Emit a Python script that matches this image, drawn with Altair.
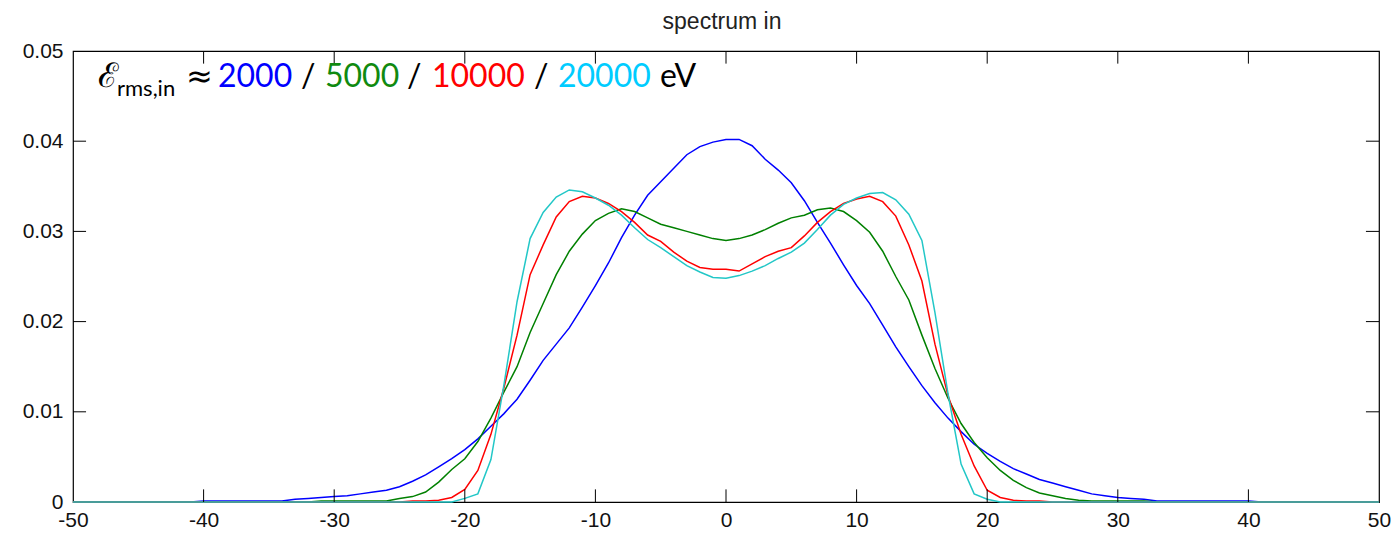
import altair as alt
import pandas as pd

# ---------------- data ----------------
x_vals = list(range(-50, 51))

blue_2000 = [0]*10 + [0.0001]*7 + [
    0.0003, 0.0004, 0.0005, 0.0006, 0.0007, 0.0009, 0.0011, 0.0013, 0.0017, 0.0023,
    0.0030, 0.0039, 0.0048, 0.0058, 0.0070, 0.0084, 0.0098, 0.0114, 0.0135, 0.0157,
    0.0175, 0.0193, 0.0216, 0.0240, 0.0265, 0.0293, 0.0318, 0.0340, 0.0355, 0.0370,
    0.0385, 0.0394, 0.0399, 0.0402, 0.0402, 0.0395, 0.0380, 0.0368, 0.0354, 0.0334,
    0.0310, 0.0287, 0.0263, 0.0240, 0.0220, 0.0196, 0.0172, 0.0150, 0.0129, 0.0110,
    0.0093, 0.0078, 0.0064, 0.0054, 0.0045, 0.0037, 0.0031, 0.0025, 0.0021, 0.0017,
    0.0013, 0.0009, 0.0007, 0.0005, 0.0004, 0.0003] + [0.0001]*8 + [0]*10

green_5000 = [0]*19 + [0.0001]*6 + [
    0.0004, 0.0006, 0.0011, 0.0022, 0.0036, 0.0048, 0.0067, 0.0093, 0.0122, 0.0150,
    0.0188, 0.0220, 0.0252, 0.0278, 0.0297, 0.0312, 0.0320, 0.0325, 0.0322, 0.0315,
    0.0308, 0.0304, 0.0300, 0.0296, 0.0292, 0.0290, 0.0292, 0.0296, 0.0302, 0.0309,
    0.0315, 0.0318, 0.0324, 0.0326, 0.0322, 0.0312, 0.0299, 0.0278, 0.0250, 0.0224,
    0.0185, 0.0148, 0.0115, 0.0087, 0.0066, 0.0049, 0.0035, 0.0024, 0.0016, 0.0010,
    0.0007, 0.0004, 0.0002] + [0.0001]*5 + [0]*18

red_10000 = [0]*26 + [
    0.0001, 0.0001, 0.0002, 0.0005, 0.0014, 0.0035, 0.0075, 0.0127, 0.0185, 0.0252,
    0.0285, 0.0316, 0.0333, 0.0339, 0.0337, 0.0331, 0.0322, 0.0310, 0.0296, 0.0289,
    0.0277, 0.0267, 0.0260, 0.0258, 0.0258, 0.0256, 0.0264, 0.0272, 0.0278, 0.0282,
    0.0295, 0.0310, 0.0322, 0.0331, 0.0336, 0.0339, 0.0333, 0.0317, 0.0285, 0.0245,
    0.0175, 0.0118, 0.0075, 0.0040, 0.0013, 0.0005, 0.0002, 0.0001, 0.0001] + [0]*26

cyan_20000 = [0]*30 + [
    0.0004, 0.0009, 0.0047, 0.0130, 0.0222, 0.0292, 0.0321, 0.0338, 0.0346, 0.0344,
    0.0337, 0.0329, 0.0318, 0.0304, 0.0291, 0.0282, 0.0272, 0.0262, 0.0255, 0.0249,
    0.0248, 0.0251, 0.0256, 0.0262, 0.0270, 0.0277, 0.0287, 0.0302, 0.0318, 0.0330,
    0.0337, 0.0342, 0.0343, 0.0335, 0.0319, 0.0290, 0.0210, 0.0120, 0.0042, 0.0009,
    0.0003] + [0]*30

series_names = ["2000", "5000", "10000", "20000"]
series_values = [blue_2000, green_5000, red_10000, cyan_20000]
line_colors = ["#0000FF", "#008000", "#FF0000", "#22C7C7"]
text_colors = ["#0000FF", "#108A10", "#FF0000", "#00CCFF"]

x_ticks = [-40, -30, -20, -10, 0, 10, 20, 30, 40]
y_ticks = [0.01, 0.02, 0.03, 0.04]
x_labels = [-50, -40, -30, -20, -10, 0, 10, 20, 30, 40, 50]
y_labels = [0, 0.01, 0.02, 0.03, 0.04, 0.05]

title_text = "spectrum in"

# ---------------- chart ----------------
xscale = alt.Scale(domain=[-50, 50], nice=False, zero=False)
yscale = alt.Scale(domain=[0, 0.05], nice=False)

xaxis = alt.Axis(values=x_labels, ticks=False, domain=False, grid=False,
                 labelFontSize=21, labelFont="Liberation Sans", labelColor="#111",
                 labelPadding=7, title=None, labelFlush=False,
                 labelExpr="'' + datum.value")
yaxis = alt.Axis(values=y_labels, ticks=False, domain=False, grid=False,
                 labelFontSize=21, labelFont="Liberation Sans", labelColor="#111",
                 labelPadding=10, title=None,
                 labelExpr="datum.value == 0 ? '0' : format(datum.value, '.2f')")

layers = []
for name, vals, col in zip(series_names, series_values, line_colors):
    df = pd.DataFrame({"x": x_vals, "y": vals})
    layers.append(
        alt.Chart(df).mark_line(color=col, strokeWidth=1.5).encode(
            x=alt.X("x:Q", scale=xscale, axis=xaxis),
            y=alt.Y("y:Q", scale=yscale, axis=yaxis),
        )
    )

tick_len_y = 0.0014
tick_len_x = 1.0
xt = pd.DataFrame({"x": x_ticks})
yt = pd.DataFrame({"y": y_ticks})
layers.append(alt.Chart(xt).mark_rule(color="black").encode(
    x="x:Q", y=alt.datum(0), y2=alt.datum(tick_len_y)))
layers.append(alt.Chart(xt).mark_rule(color="black").encode(
    x="x:Q", y=alt.datum(0.05), y2=alt.datum(0.05 - tick_len_y)))
layers.append(alt.Chart(yt).mark_rule(color="black").encode(
    y="y:Q", x=alt.datum(-50), x2=alt.datum(-50 + tick_len_x)))
layers.append(alt.Chart(yt).mark_rule(color="black").encode(
    y="y:Q", x=alt.datum(50), x2=alt.datum(50 - tick_len_x)))

# title
layers.append(alt.Chart(pd.DataFrame({"t": [title_text]})).mark_text(
    font="Liberation Sans", fontSize=23, color="#222", align="center", baseline="middle"
).encode(text="t:N", x=alt.value(649), y=alt.value(-29)))

# annotation pieces: (text, x, y, size, color, font)
pieces = [
    ("\u2130", 25, 36, 34, "black", "DejaVu Serif"),
    ("rms,in", 44, 45, 22, "black", "Lato"),
    ("\u2248", 113, 36, 32, "black", "DejaVu Sans"),
    (series_names[0], 145, 36, 32, text_colors[0], "Lato"),
    ("/", 228, 36, 32, "black", "Lato"),
    (series_names[1], 252, 36, 32, text_colors[1], "Lato"),
    ("/", 334, 36, 32, "black", "Lato"),
    (series_names[2], 359, 36, 32, text_colors[2], "Lato"),
    ("/", 461, 36, 32, "black", "Lato"),
    (series_names[3], 485, 36, 32, text_colors[3], "Lato"),
    ("eV", 587, 36, 32, "black", "Lato"),
]
for t, px, py, fs, col, fnt in pieces:
    layers.append(alt.Chart(pd.DataFrame({"t": [t]})).mark_text(
        font=fnt, fontSize=fs, color=col, align="left", baseline="alphabetic"
    ).encode(text="t:N", x=alt.value(px), y=alt.value(py)))

chart = alt.layer(*layers).properties(
    width=1306, height=451,
    autosize=alt.AutoSizeParams(type="none"),
    padding={"left": 73, "top": 51, "right": 16, "bottom": 37},
    background="white",
).configure_view(stroke="black", strokeWidth=1.2)

chart.save("out.html", embed_options={"renderer": "svg", "actions": False})
